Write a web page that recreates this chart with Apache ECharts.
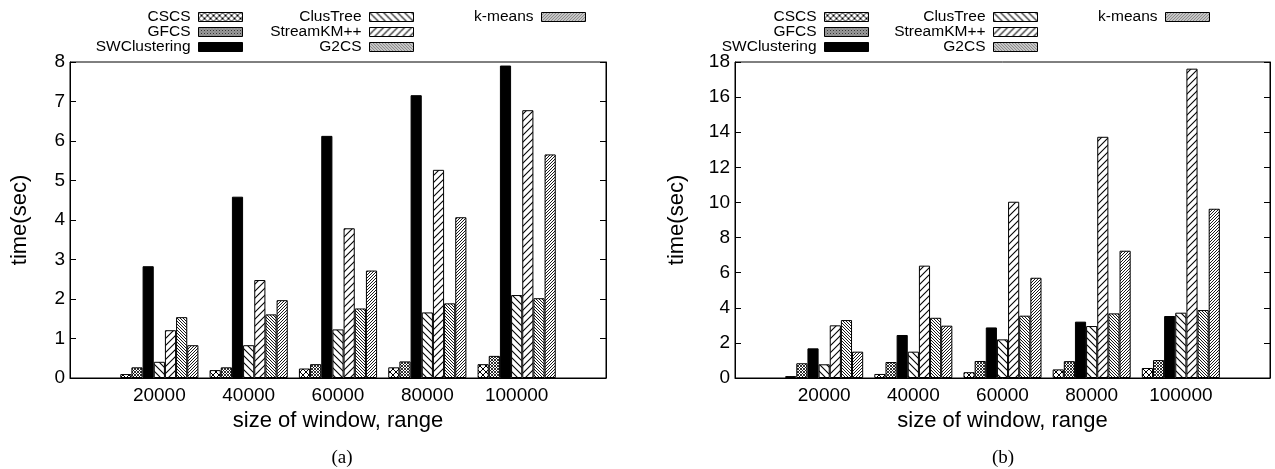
<!DOCTYPE html>
<html>
<head>
<meta charset="utf-8">
<title>Clustering time vs. window size</title>
<script src="https://cdn.jsdelivr.net/npm/echarts@6/dist/echarts.min.js"></script>
<style>
  html, body { margin: 0; padding: 0; background: #fff; }
  #chart { width: 1275px; height: 469px; }
</style>
</head>
<body>
<div id="chart"></div>
<script>
// Window sizes on the x axis
const categories = ['20000', '40000', '60000', '80000', '100000'];
const methods = ['CSCS', 'GFCS', 'SWClustering', 'ClusTree', 'StreamKM++', 'G2CS', 'k-means'];

// (a) running time in seconds
const cscsA       = [0.10, 0.20, 0.24, 0.27, 0.35];
const gfcsA       = [0.27, 0.27, 0.35, 0.42, 0.56];
const swcA        = [2.83, 4.59, 6.13, 7.16, 7.91];
const clustreeA   = [0.41, 0.83, 1.23, 1.66, 2.10];
const streamkmA   = [1.21, 2.48, 3.79, 5.27, 6.78];
const g2csA       = [1.54, 1.61, 1.76, 1.89, 2.02];
const kmeansA     = [0.83, 1.97, 2.72, 4.07, 5.66];

// (b) running time in seconds
const cscsB       = [0.11, 0.23, 0.33, 0.49, 0.57];
const gfcsB       = [0.84, 0.91, 0.97, 0.96, 1.02];
const swcB        = [1.69, 2.45, 2.88, 3.21, 3.53];
const clustreeB   = [0.78, 1.50, 2.20, 2.96, 3.72];
const streamkmB   = [3.00, 6.40, 10.04, 13.74, 17.62];
const g2csB       = [3.30, 3.43, 3.55, 3.68, 3.87];
const kmeansB     = [1.50, 2.98, 5.71, 7.25, 9.64];

// Hatch tiles drawn on small canvases
function hatch(size, dirs, lw) {
  const c = document.createElement('canvas');
  c.width = size; c.height = size;
  const g = c.getContext('2d');
  g.fillStyle = '#fff';
  g.fillRect(0, 0, size, size);
  g.strokeStyle = '#000';
  g.lineWidth = lw;
  dirs.forEach(function (d) {
    for (let k = -1; k <= 1; k++) {
      g.beginPath();
      if (d === '\\') {
        g.moveTo(-1, -1 + k * size);
        g.lineTo(size + 1, size + 1 + k * size);
      } else {
        g.moveTo(-1, size + 1 + k * size);
        g.lineTo(size + 1, -1 + k * size);
      }
      g.stroke();
    }
  });
  return { image: c, repeat: 'repeat' };
}

const fills = [
  hatch(6, ['\\', '/'], 1),   // CSCS
  hatch(3, ['\\', '/'], 0.8), // GFCS
  '#000',                     // SWClustering
  hatch(7, ['\\'], 1.1),      // ClusTree
  hatch(7, ['/'], 1.1),       // StreamKM++
  hatch(3, ['\\'], 0.9),      // G2CS
  hatch(3, ['/'], 0.9)        // k-means
];

const dataA = [cscsA, gfcsA, swcA, clustreeA, streamkmA, g2csA, kmeansA];
const dataB = [cscsB, gfcsB, swcB, clustreeB, streamkmB, g2csB, kmeansB];

const FONT = 'Liberation Sans, Arial, Helvetica, sans-serif';
const axisCats = [''].concat(categories, ['']);
const pad = function (arr) { return [null].concat(arr, [null]); };

const grids = [
  { left: 70, top: 62, width: 536, height: 316 },
  { left: 735, top: 62, width: 535, height: 316 }
];

function xAxis(gi) {
  return {
    type: 'category', gridIndex: gi, data: axisCats, boundaryGap: false,
    axisLine: { lineStyle: { color: '#000', width: 1 } },
    axisTick: { show: false },
    axisLabel: { color: '#000', fontFamily: FONT, fontSize: 19, margin: 8, interval: 0 },
    name: 'size of window, range', nameLocation: 'middle', nameGap: 28,
    nameTextStyle: { color: '#000', fontFamily: FONT, fontSize: 22 }
  };
}

function yAxes(gi, max, step, gap) {
  const base = {
    type: 'value', gridIndex: gi, min: 0, max: max, interval: step,
    splitLine: { show: false },
    axisLine: { show: true, lineStyle: { color: '#000', width: 1 } },
    axisTick: { show: true, inside: true, length: 6, lineStyle: { color: '#000', width: 1 } }
  };
  return [
    Object.assign({}, base, {
      position: 'left',
      axisLabel: { color: '#000', fontFamily: FONT, fontSize: 19, margin: 5 },
      name: 'time(sec)', nameLocation: 'middle', nameGap: gap,
      nameTextStyle: { color: '#000', fontFamily: FONT, fontSize: 22 }
    }),
    Object.assign({}, base, { position: 'right', axisLabel: { show: false } })
  ];
}

function seriesFor(data, gi) {
  return methods.map(function (m, i) {
    return {
      name: m, type: 'bar', xAxisIndex: gi, yAxisIndex: gi * 2,
      data: pad(data[i]),
      barGap: '0%', barCategoryGap: '12.5%',
      itemStyle: { color: fills[i], borderColor: '#000', borderWidth: 1 },
      emphasis: { disabled: true }
    };
  });
}

function legendCol(names, rightPx) {
  return {
    orient: 'vertical', align: 'right', right: rightPx, top: 9, padding: 0,
    data: names, icon: 'rect', itemWidth: 44, itemHeight: 9, itemGap: -1,
    selectedMode: false,
    textStyle: { color: '#000', fontFamily: FONT, fontSize: 15.5, padding: [0, 3, 0, 0] },
    itemStyle: { borderColor: '#000', borderWidth: 1 }
  };
}

const col1 = ['CSCS', 'GFCS', 'SWClustering'];
const col2 = ['ClusTree', 'StreamKM++', 'G2CS'];
const col3 = ['k-means'];

const chart = echarts.init(document.getElementById('chart'), null, { renderer: 'canvas' });
chart.setOption({
  animation: false,
  backgroundColor: '#fff',
  grid: grids.map(function (g) {
    return Object.assign({ show: true, borderColor: '#000', borderWidth: 1, backgroundColor: 'transparent' }, g);
  }),
  xAxis: [xAxis(0), xAxis(1)],
  yAxis: yAxes(0, 8, 1, 39).concat(yAxes(1, 18, 2, 47)),
  legend: [
    legendCol(col1, 1032), legendCol(col2, 861), legendCol(col3, 689),
    legendCol(col1, 406), legendCol(col2, 237), legendCol(col3, 65)
  ],
  series: seriesFor(dataA, 0).concat(seriesFor(dataB, 1)),
  graphic: [
    { type: 'text', x: 342, y: 458, style: { text: '(a)', fill: '#000', font: '19px "Liberation Serif", "Times New Roman", serif', align: 'center', verticalAlign: 'middle' } },
    { type: 'text', x: 1003, y: 458, style: { text: '(b)', fill: '#000', font: '19px "Liberation Serif", "Times New Roman", serif', align: 'center', verticalAlign: 'middle' } }
  ]
});
</script>
</body>
</html>
